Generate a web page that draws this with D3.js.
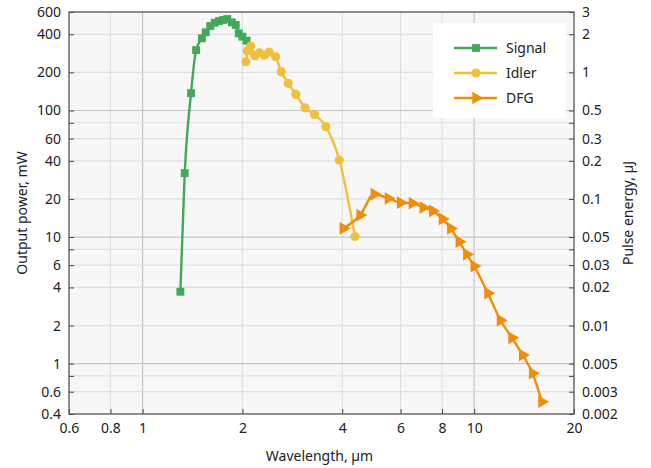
<!DOCTYPE html>
<html lang="en">
<head>
<meta charset="UTF-8">
<title>Output power vs wavelength</title>
<script src="https://d3js.org/d3.v7.min.js"></script>
<style>
    body { margin: 0; background: #fff; }
    text { font-family: "Noto Sans", sans-serif; fill: #222; }
    .tick text { font-size: 14px; }
    .tick line { stroke: #444; }
</style>
</head>
<body>
<div id="chart"></div>
<script>
// data (wavelength in um, power in mW)
const signalWl = [1.30, 1.34, 1.40, 1.45, 1.51, 1.55, 1.60, 1.65, 1.70, 1.75, 1.80, 1.86, 1.91, 1.95, 2.00, 2.06];
const signalPw = [3.7, 32, 137, 300, 372, 415, 465, 494, 509, 519, 528, 497, 474, 407, 383, 356];

const idlerWl = [2.05, 2.07, 2.12, 2.18, 2.25, 2.33, 2.41, 2.52, 2.62, 2.75, 2.90, 3.09, 3.30, 3.57, 3.92, 4.37];
const idlerPw = [243, 295, 323, 270, 286, 273, 290, 266, 202, 164, 134, 105, 93, 74.5, 40.6, 10.1];

const dfgWl = [4.03, 4.53, 5.0, 5.51, 6.0, 6.51, 7.02, 7.5, 8.02, 8.5, 9.02, 9.5, 10.0, 11.0, 12.0, 13.0, 14.0, 15.0, 16.0];
const dfgPw = [11.7, 14.9, 21.8, 20.2, 18.7, 18.5, 17.1, 16.1, 13.9, 11.7, 9.2, 7.3, 5.9, 3.6, 2.2, 1.6, 1.17, 0.84, 0.50];

// axis ticks
const xTicks = [0.6, 0.8, 1, 2, 4, 6, 8, 10, 20];
const yTicks = [0.4, 0.6, 0.8, 1, 2, 4, 6, 8, 10, 20, 40, 60, 80, 100, 200, 400, 600];
const yUnlabeled = [0.8, 8, 80];
const energyPerMw = 1 / 200;   // right axis: uJ = mW / 200

const width = 651, height = 468;
const plot = {left: 69, right: 574, top: 12, bottom: 414};

const svg = d3.select("#chart").append("svg")
    .attr("width", width)
    .attr("height", height);

const x = d3.scaleLog().domain([0.6, 20]).range([plot.left, plot.right]);
const y = d3.scaleLog().domain([0.4, 600]).range([plot.bottom, plot.top]);
const y2 = d3.scaleLog().domain([0.4 * energyPerMw, 600 * energyPerMw]).range([plot.bottom, plot.top]);

// plot background
svg.append("rect")
    .attr("x", plot.left).attr("y", plot.top)
    .attr("width", plot.right - plot.left).attr("height", plot.bottom - plot.top)
    .attr("fill", "#f7f7f7");

// grid
const isDecade = v => Math.abs(Math.log10(v) - Math.round(Math.log10(v))) < 1e-6;
svg.append("g").selectAll("line")
    .data(xTicks.filter(v => v > 0.6 && v < 20))
    .join("line")
    .attr("x1", d => x(d)).attr("x2", d => x(d))
    .attr("y1", plot.top).attr("y2", plot.bottom)
    .attr("stroke", d => isDecade(d) ? "#c4c4c4" : "#e0e0e0")
    .attr("stroke-width", 1.2);

svg.append("g").selectAll("line")
    .data(yTicks.filter(v => v > 0.4 && v < 600))
    .join("line")
    .attr("x1", plot.left).attr("x2", plot.right)
    .attr("y1", d => y(d)).attr("y2", d => y(d))
    .attr("stroke", d => isDecade(d) ? "#c4c4c4" : "#e0e0e0")
    .attr("stroke-width", 1.2);

// axes, ticks pointing inwards
const fmt = v => yUnlabeled.includes(v) ? "" : String(v);

svg.append("g")
    .attr("transform", `translate(0,${plot.bottom})`)
    .call(d3.axisBottom(x).tickValues(xTicks).tickFormat(d => String(d))
        .tickSizeInner(-5).tickSizeOuter(0).tickPadding(9))
    .call(g => g.select(".domain").remove());

svg.append("g")
    .attr("transform", `translate(${plot.left},0)`)
    .call(d3.axisLeft(y).tickValues(yTicks).tickFormat(fmt)
        .tickSizeInner(-5).tickSizeOuter(0).tickPadding(8))
    .call(g => g.select(".domain").remove());

svg.append("g")
    .attr("transform", `translate(${plot.right},0)`)
    .call(d3.axisRight(y2).tickValues(yTicks.map(v => +(v * energyPerMw).toPrecision(3)))
        .tickFormat(d => yUnlabeled.includes(+(d / energyPerMw).toPrecision(3)) ? "" : String(d))
        .tickSizeInner(-5).tickSizeOuter(0).tickPadding(8))
    .call(g => g.select(".domain").remove());

svg.selectAll(".tick text").style("font-family", "'Noto Sans', sans-serif").attr("fill", "#222");

// frame
svg.append("rect")
    .attr("x", plot.left).attr("y", plot.top)
    .attr("width", plot.right - plot.left).attr("height", plot.bottom - plot.top)
    .attr("fill", "none")
    .attr("stroke", "#555")
    .attr("stroke-width", 1.3);

// axis titles
svg.append("text")
    .attr("x", (plot.left + plot.right) / 2 - 2).attr("y", 461)
    .attr("text-anchor", "middle")
    .style("font-size", "14px")
    .text("Wavelength, µm");

svg.append("text")
    .attr("transform", `translate(27,${(plot.top + plot.bottom) / 2}) rotate(-90)`)
    .attr("text-anchor", "middle")
    .style("font-size", "14px")
    .text("Output power, mW");

svg.append("text")
    .attr("transform", `translate(633,${(plot.top + plot.bottom) / 2}) rotate(-90)`)
    .attr("text-anchor", "middle")
    .style("font-size", "14px")
    .text("Pulse energy, µJ");

// series
const series = [
    {name: "Signal", wl: signalWl, pw: signalPw, color: "#43a85a", marker: d3.symbolSquare, size: 62},
    {name: "Idler", wl: idlerWl, pw: idlerPw, color: "#f0c03c", marker: d3.symbolCircle, size: 66},
    {name: "DFG", wl: dfgWl, pw: dfgPw, color: "#ef8e0a", marker: d3.symbolTriangle, size: 70, rot: 90}
];

const line = d3.line()
    .x(d => x(d[0]))
    .y(d => y(d[1]))
    .curve(d3.curveMonotoneX);

series.forEach(s => {
    const pts = s.wl.map((w, i) => [w, s.pw[i]]);
    svg.append("path")
        .datum(pts)
        .attr("d", line)
        .attr("fill", "none")
        .attr("stroke", s.color)
        .attr("stroke-width", 2.4);

    svg.append("g").selectAll("path")
        .data(pts)
        .join("path")
        .attr("d", d3.symbol().type(s.marker).size(s.size))
        .attr("transform", d => `translate(${x(d[0])},${y(d[1])}) rotate(${s.rot || 0})`)
        .attr("fill", s.color);
});

// legend
const legend = svg.append("g");
legend.append("rect")
    .attr("x", 433).attr("y", 23)
    .attr("width", 133).attr("height", 95)
    .attr("fill", "#ffffff");

series.forEach((s, i) => {
    const ly = 48 + i * 25;
    legend.append("line")
        .attr("x1", 454).attr("x2", 497)
        .attr("y1", ly).attr("y2", ly)
        .attr("stroke", s.color).attr("stroke-width", 2.4);
    legend.append("path")
        .attr("d", d3.symbol().type(s.marker).size(s.size)())
        .attr("transform", `translate(476,${ly}) rotate(${s.rot || 0})`)
        .attr("fill", s.color);
    legend.append("text")
        .attr("x", 506).attr("y", ly + 5)
        .style("font-size", "14px")
        .text(s.name);
});
</script>
</body>
</html>
